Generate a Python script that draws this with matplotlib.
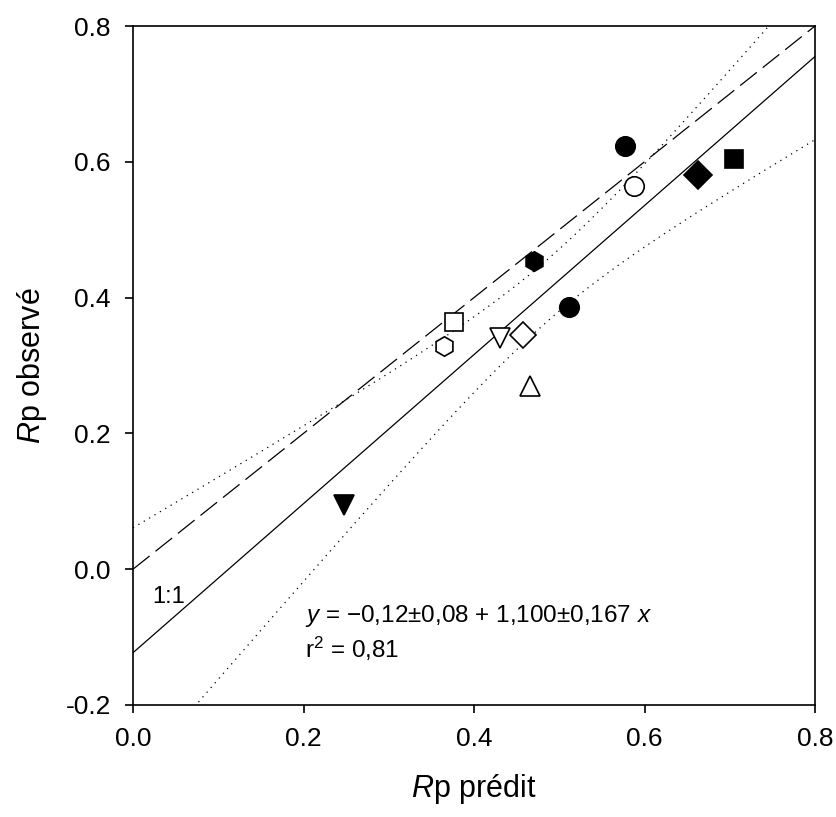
import matplotlib
matplotlib.use('Agg')
import matplotlib.pyplot as plt
import numpy as np

plt.rcParams['font.family'] = ['Liberation Sans', 'DejaVu Sans']
plt.rcParams['mathtext.fontset'] = 'custom'
plt.rcParams['mathtext.rm'] = 'Liberation Sans'
plt.rcParams['mathtext.it'] = 'Liberation Sans:italic'

# valeurs
rp_predit = [0.577, 0.588, 0.663, 0.705, 0.470, 0.512, 0.377, 0.365, 0.430, 0.458, 0.466, 0.248]
rp_observe = [0.623, 0.564, 0.580, 0.604, 0.454, 0.386, 0.364, 0.329, 0.341, 0.345, 0.270, 0.095]
marqueurs = ['o', 'o', 'D', 's', 'h', 'o', 's', 'h', 'v', 'D', '^', 'v']
remplis = [True, False, True, True, True, True, False, False, False, False, False, True]
tailles = [14, 14, 14, 12.5, 14, 14, 12.5, 14, 14, 13.5, 14, 14]

t_95 = 2.228  # t de Student, ddl = 10

x = np.array(rp_predit)
y = np.array(rp_observe)
n = len(x)
pente, ordonnee = np.polyfit(x, y, 1)
resid = y - (ordonnee + pente * x)
s = np.sqrt(np.sum(resid ** 2) / (n - 2))
sxx = np.sum((x - x.mean()) ** 2)

xx = np.linspace(0, 0.8, 400)
yy = ordonnee + pente * xx
demi = t_95 * s * np.sqrt(1.0 / n + (xx - x.mean()) ** 2 / sxx)

fig = plt.figure(figsize=(8.36, 8.17), dpi=100)
ax = fig.add_axes([133 / 836, 1 - 705 / 817, (815 - 133) / 836, (705 - 26) / 817])

ax.plot([0, 0.8], [0, 0.8], color='black', lw=0.9, dashes=(17, 6))
ax.plot(xx, yy, color='black', lw=0.9)
ax.plot(xx, yy + demi, color='black', lw=0.9, ls=(0, (1, 4)))
ax.plot(xx, yy - demi, color='black', lw=0.9, ls=(0, (1, 4)))

for i in range(n):
    fc = 'black' if remplis[i] else 'white'
    ax.plot(x[i], y[i], marker=marqueurs[i], ms=tailles[i], mfc=fc, mec='black', mew=1.2, ls='none', zorder=5)

ax.text(0.022, -0.025, '1:1', fontsize=17, va='top', ha='left')
ax.text(0.202, -0.078, r'$\it{y}$ = $-$0,12±0,08 + 1,100±0,167 $\it{x}$', fontsize=17.5, va='baseline')
ax.text(0.202, -0.13, r'r$^2$ = 0,81', fontsize=17.5, va='baseline')

ax.set_xlim(0, 0.8)
ax.set_ylim(-0.2, 0.8)
ax.set_xticks([0.0, 0.2, 0.4, 0.6, 0.8])
ax.set_yticks([-0.2, 0.0, 0.2, 0.4, 0.6, 0.8])
ax.set_xticklabels(['0.0', '0.2', '0.4', '0.6', '0.8'])
ax.set_yticklabels(['-0.2', '0.0', '0.2', '0.4', '0.6', '0.8'])
ax.tick_params(direction='out', length=6, width=1.2, labelsize=19, pad=10)
for sp in ax.spines.values():
    sp.set_linewidth(1.2)

ax.set_xlabel(r'$\it{R}$p prédit', fontsize=22, labelpad=15)
ax.set_ylabel(r'$\it{R}$p observé', fontsize=22, labelpad=12)

fig.savefig('out.png', dpi=100)
